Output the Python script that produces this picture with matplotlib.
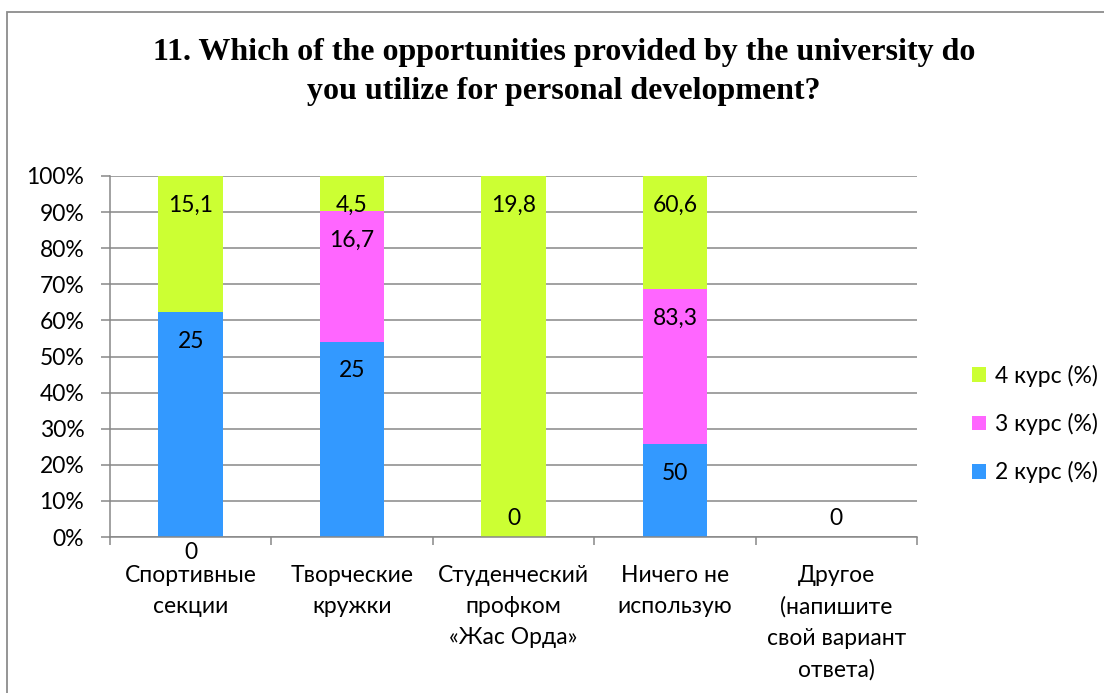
import matplotlib.pyplot as plt
from matplotlib.patches import Rectangle
import numpy as np

# data
categories = ['Спортивные\nсекции', 'Творческие\nкружки', 'Студенческий\nпрофком\n«Жас Орда»',
              'Ничего не\nиспользую', 'Другое\n(напишите\nсвой вариант\nответа)']
kurs2 = [25, 25, 0, 50, 0]
kurs3 = [0, 16.7, 0, 83.3, 0]
kurs4 = [15.1, 4.5, 19.8, 60.6, 0]
series_names = ['2 курс (%)', '3 курс (%)', '4 курс (%)']
colors = ['#3399FF', '#FF66FF', '#CCFF33']

plt.rcParams['font.family'] = ['Lato', 'DejaVu Sans']
grid_col = '#878787'
fs = 16.5

fig = plt.figure(figsize=(11.04, 6.93), dpi=100)
ax = fig.add_axes([110 / 1104, 1 - 537 / 693, (917 - 110) / 1104, (537 - 176) / 693])

vals = np.array([kurs2, kurs3, kurs4], dtype=float)
totals = vals.sum(axis=0)
pct = np.divide(vals, totals, out=np.zeros_like(vals), where=totals > 0) * 100

x = np.arange(len(categories))
bottom = np.zeros(len(categories))
handles = []
for i in range(3):
    b = ax.bar(x, pct[i], 0.4, bottom=bottom, color=colors[i], label=series_names[i], zorder=2)
    handles.append(b)
    for j in range(len(categories)):
        v = vals[i, j]
        top = bottom[j] + pct[i, j]
        if v > 0:
            ax.annotate(f'{v:g}'.replace('.', ','), (x[j], top), xytext=(0, -21),
                        textcoords='offset points', ha='center', va='center', fontsize=fs)
        else:
            # excel puts zero labels in odd spots
            if j == 0:
                ax.annotate('0', (x[j], 0), xytext=(0, -11.5), textcoords='offset points',
                            ha='center', va='center', fontsize=fs, annotation_clip=False)
            elif i == 0:
                ax.annotate('0', (x[j], 0), xytext=(0, 13), textcoords='offset points',
                            ha='center', va='center', fontsize=fs)
    bottom += pct[i]

ax.set_xlim(-0.5, len(categories) - 0.5)
ax.set_ylim(0, 100)
ax.set_yticks(np.arange(0, 101, 10))
ax.set_yticklabels([f'{t}%' for t in range(0, 101, 10)])
ax.set_xticks(x)
ax.set_xticklabels(categories, linespacing=1.6, va='top')
ax.set_xticks(np.arange(-0.5, len(categories)), minor=True)
ax.tick_params(axis='x', which='major', length=0, pad=20, labelsize=fs)
ax.tick_params(axis='x', which='minor', length=6, width=1.1, color=grid_col)
ax.tick_params(axis='y', length=6.5, width=1.1, color=grid_col, pad=12, labelsize=fs)
ax.yaxis.grid(True, color=grid_col, linewidth=1.1, zorder=0)
ax.set_axisbelow(True)
for s in ['top', 'right']:
    ax.spines[s].set_visible(False)
for s in ['left', 'bottom']:
    ax.spines[s].set_color(grid_col)
    ax.spines[s].set_linewidth(1.1)

fig.legend(handles[::-1], series_names[::-1], loc='center left',
           bbox_to_anchor=(951 / 1104, 1 - 424 / 693), frameon=False, fontsize=fs,
           handlelength=0.62, handleheight=0.62, handletextpad=0.4, labelspacing=1.15)

fig.text(0.511, 1 - 72 / 693,
         '11. Which of the opportunities provided by the university do\nyou utilize for personal development?',
         ha='center', va='center', fontsize=23, fontweight='bold',
         family='Liberation Serif', linespacing=1.45)

# chart frame (only left and top edges visible)
fig.add_artist(Rectangle((7 / 1104, -0.1), 1.2, 0.1 + 1 - 12 / 693, transform=fig.transFigure,
                         fill=False, edgecolor='#8c8c8c', linewidth=1.3))

plt.savefig('out.png', dpi=100)
